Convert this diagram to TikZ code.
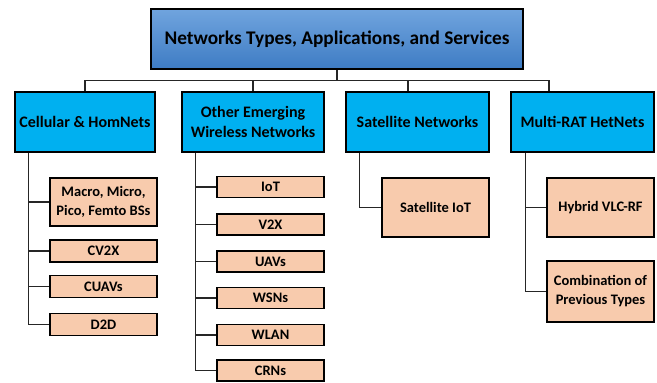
\documentclass[tikz,border=0pt]{standalone}
\usepackage{fontspec}
\setmainfont{Carlito}
\begin{document}
\begin{tikzpicture}[x=1pt,y=-1pt,
  box/.style={draw=black,line width=1.5pt,inner sep=0pt,align=center,font=\bfseries},
  topbox/.style={box,top color=topblue,bottom color=botblue,font=\fontsize{19.3}{23}\selectfont\bfseries},
  lvlbox/.style={box,fill=cyanbox,font=\fontsize{16}{20.5}\selectfont\bfseries},
  subbox/.style={box,fill=peach,minimum width=107pt,font=\fontsize{14.5}{19}\selectfont\bfseries},
  conn/.style={draw=black!85,line width=1.1pt}]
\definecolor{topblue}{RGB}{112,164,222}
\definecolor{botblue}{RGB}{62,124,196}
\definecolor{cyanbox}{RGB}{0,176,240}
\definecolor{peach}{RGB}{248,203,173}
\useasboundingbox (0,0) rectangle (657,383);
\fill[white] (0,0) rectangle (657,383);
% top
\node[topbox,minimum width=372pt,minimum height=60pt] (top) at (337,39) {Networks Types, Applications, and Services};
% level 1
\node[lvlbox,minimum width=140pt,minimum height=60pt] (cell) at (85,122) {Cellular \& HomNets};
\node[lvlbox,minimum width=142pt,minimum height=60pt] (other) at (253,122) {Other Emerging\\Wireless Networks};
\node[lvlbox,minimum width=143pt,minimum height=60pt] (sat) at (417.5,122) {Satellite Networks};
\node[lvlbox,minimum width=143pt,minimum height=60pt] (multi) at (582.5,122) {Multi-RAT HetNets};
% connectors level 1
\draw[conn] (top.south) -- ++(0,11) -| (cell.north);
\draw[conn] (top.south) -- ++(0,11) -| (other.north);
\draw[conn] (top.south) -- ++(0,11) -| ([xshift=-9.5pt]sat.north);
\draw[conn] (top.south) -- ++(0,11) -| ([xshift=-33.5pt]multi.north);
% cellular children
\node[subbox,minimum height=48pt] (macro) at (103.5,202) {Macro, Micro,\\Pico, Femto BSs};
\node[subbox,minimum height=22pt] (cv2x) at (103.5,251) {CV2X};
\node[subbox,minimum height=22pt] (cuavs) at (103.5,286.5) {CUAVs};
\node[subbox,minimum height=22pt] (d2d) at (103.5,324.5) {D2D};
\foreach \c in {macro,cv2x,cuavs,d2d}
  \draw[conn] ([xshift=14pt]cell.south west) |- (\c.west);
% other children
\node[subbox,minimum height=21pt] (iot) at (270.5,187) {IoT};
\node[subbox,minimum height=21pt] (v2x) at (270.5,224.5) {V2X};
\node[subbox,minimum height=21pt] (uavs) at (270.5,261.5) {UAVs};
\node[subbox,minimum height=21pt] (wsns) at (270.5,298) {WSNs};
\node[subbox,minimum height=21pt] (wlan) at (270.5,335) {WLAN};
\node[subbox,minimum height=21pt] (crns) at (270.5,370.5) {CRNs};
\foreach \c in {iot,v2x,uavs,wsns,wlan,crns}
  \draw[conn] ([xshift=14pt]other.south west) |- (\c.west);
% satellite children
\node[subbox,minimum height=59pt] (satiot) at (435.5,207.5) {Satellite IoT};
\draw[conn] ([xshift=14pt]sat.south west) |- (satiot.west);
% multi children
\node[subbox,minimum height=59pt] (hybrid) at (600.5,207.5) {Hybrid VLC-RF};
\node[subbox,minimum height=61pt] (comb) at (600.5,291.5) {Combination of\\Previous Types};
\foreach \c in {hybrid,comb}
  \draw[conn] ([xshift=15pt]multi.south west) |- (\c.west);
\end{tikzpicture}
\end{document}
